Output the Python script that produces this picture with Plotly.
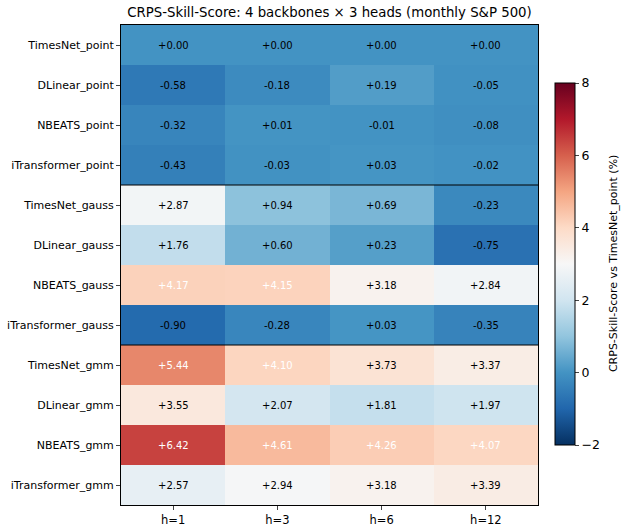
import plotly.graph_objects as go

rows = ["TimesNet_point", "DLinear_point", "NBEATS_point", "iTransformer_point",
        "TimesNet_gauss", "DLinear_gauss", "NBEATS_gauss", "iTransformer_gauss",
        "TimesNet_gmm", "DLinear_gmm", "NBEATS_gmm", "iTransformer_gmm"]
cols = ["h=1", "h=3", "h=6", "h=12"]
h1 = [0.00, -0.58, -0.32, -0.43, 2.87, 1.76, 4.17, -0.90, 5.44, 3.55, 6.42, 2.57]
h3 = [0.00, -0.18, 0.01, -0.03, 0.94, 0.60, 4.15, -0.28, 4.10, 2.07, 4.61, 2.94]
h6 = [0.00, 0.19, -0.01, 0.03, 0.69, 0.23, 3.18, 0.03, 3.73, 1.81, 4.26, 3.18]
h12 = [0.00, -0.05, -0.08, -0.02, -0.23, -0.75, 2.84, -0.35, 3.37, 1.97, 4.07, 3.39]

z = [[a, b, c, d] for a, b, c, d in zip(h1, h3, h6, h12)]

rdbu = ["#053061", "#2166ac", "#4393c3", "#92c5de", "#d1e5f0", "#f7f7f7",
        "#fddbc7", "#f4a582", "#d6604d", "#b2182b", "#67001f"]
cscale = [[i / (len(rdbu) - 1), c] for i, c in enumerate(rdbu)]

fig = go.Figure()
fig.add_trace(go.Heatmap(
    z=z, x=cols, y=rows, zmin=-2, zmax=8, colorscale=cscale,
    xgap=0, ygap=0,
    colorbar=dict(
        x=1.0408, xanchor="left", xpad=0, y=0.502, yanchor="middle",
        lenmode="pixels", len=362, ypad=0,
        thickness=20, outlinecolor="black", outlinewidth=1,
        tickvals=[-2, 0, 2, 4, 6, 8], ticktext=["\u22122", "0", "2", "4", "6", "8"],
        ticks="outside", ticklen=4, tickfont=dict(size=12.5, color="black"),
    ),
    hoverinfo="skip",
))

ann = []
for i, r in enumerate(rows):
    for j, c in enumerate(cols):
        v = z[i][j]
        ann.append(dict(x=c, y=r, text=f"{v:+.2f}", showarrow=False,
                        font=dict(size=10, color="white" if v > 4 else "black")))

ann.append(dict(xref="paper", yref="paper", x=(613 - 121) / 417, y=0.504,
                text="CRPS-Skill-Score vs TimesNet_point (%)", textangle=-90,
                showarrow=False, xanchor="center", yanchor="middle",
                font=dict(size=11, color="black")))

shapes = [
    dict(type="line", xref="paper", yref="y", x0=0, x1=1, y0=3.5, y1=3.5,
         line=dict(color="black", width=1)),
    dict(type="line", xref="paper", yref="y", x0=0, x1=1, y0=7.5, y1=7.5,
         line=dict(color="black", width=1)),
]

W, H = 621, 531
fig.update_layout(
    width=W, height=H,
    margin=dict(l=121, r=83, t=25, b=26, autoexpand=False),
    paper_bgcolor="white", plot_bgcolor="white",
    font=dict(family="DejaVu Sans", color="black"),
    title=dict(text="CRPS-Skill-Score: 4 backbones \u00d7 3 heads (monthly S&P 500)",
               x=0.5, xref="paper", xanchor="center", y=1 - 12 / H, yanchor="middle",
               font=dict(size=13.3, color="black")),
    annotations=ann, shapes=shapes,
    xaxis=dict(showline=True, linecolor="black", mirror=True, ticks="outside",
               ticklen=4, tickfont=dict(size=11.5), showgrid=False, automargin=False),
    yaxis=dict(showline=True, linecolor="black", mirror=True, ticks="outside",
               ticklen=4, tickfont=dict(size=11), autorange="reversed", showgrid=False,
               automargin=False),
)

fig.write_html("out.html", config={"displayModeBar": False},
               post_script="document.body.style.margin='0';document.body.style.padding='0';")
